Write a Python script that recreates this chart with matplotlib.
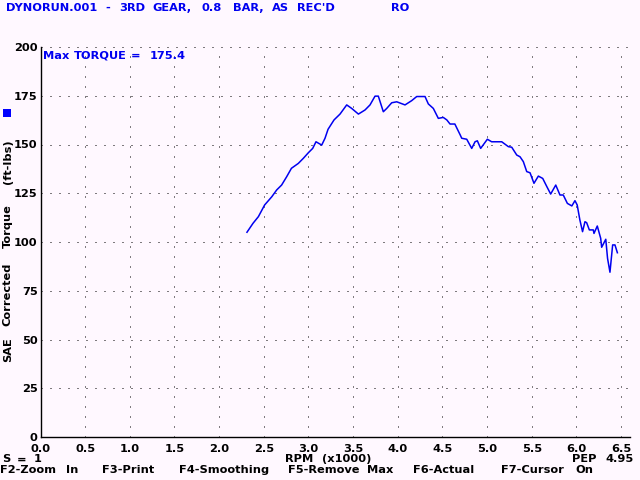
import matplotlib
matplotlib.use("Agg")
import matplotlib.pyplot as plt
from matplotlib.patches import Rectangle

# ---- data ----
rpm = [2.312, 2.38, 2.44, 2.51, 2.59, 2.645, 2.70, 2.757, 2.81, 2.887, 2.943, 3.0, 3.048,
       3.085, 3.149, 3.186, 3.22, 3.287, 3.354, 3.429, 3.485, 3.56, 3.634, 3.69, 3.746,
       3.783, 3.839, 3.877, 3.933, 3.989, 4.082, 4.157, 4.213, 4.306, 4.343, 4.399, 4.455,
       4.51, 4.55, 4.586, 4.64, 4.70, 4.717, 4.773, 4.829, 4.866, 4.892, 4.929, 5.004,
       5.052, 5.09, 5.165, 5.239, 5.277, 5.333, 5.37, 5.407, 5.445, 5.482, 5.526, 5.575,
       5.624, 5.67, 5.713, 5.77, 5.817, 5.854, 5.9, 5.95, 5.985, 6.01, 6.04, 6.07, 6.097,
       6.116, 6.146, 6.19, 6.198, 6.235, 6.273, 6.284, 6.33, 6.35, 6.377, 6.407, 6.433, 6.46]
torque = [105.0, 109.6, 113.0, 119.0, 123.2, 126.7, 129.2, 133.5, 137.8, 140.3, 142.9, 145.8,
          148.0, 151.4, 149.7, 153.2, 157.8, 162.6, 165.6, 170.3, 168.5, 165.6, 167.7, 170.3,
          174.8, 174.8, 166.8, 168.5, 171.4, 171.9, 170.3, 172.5, 174.6, 174.6, 170.8, 168.5,
          163.4, 163.9, 162.6, 160.5, 160.5, 154.9, 153.2, 152.7, 148.0, 151.4, 151.9, 148.0,
          152.7, 151.4, 151.4, 151.4, 148.9, 148.6, 144.6, 143.7, 141.2, 136.1, 135.5, 130.1,
          133.8, 132.6, 128.4, 124.6, 129.2, 124.1, 124.1, 119.8, 118.5, 121.2, 119.0, 111.3,
          105.3, 110.4, 109.9, 106.2, 106.2, 104.4, 108.2, 101.9, 97.3, 101.4, 91.6, 84.5,
          98.5, 98.5, 94.5]
xticks = [0.0, 0.5, 1.0, 1.5, 2.0, 2.5, 3.0, 3.5, 4.0, 4.5, 5.0, 5.5, 6.0, 6.5]
yticks = [0, 25, 50, 75, 100, 125, 150, 175, 200]

title = "DYNORUN.001 - 3RD GEAR, 0.8 BAR, AS REC'D"
operator = "RO"
max_label = "Max TORQUE = 175.4"
ylabel = "SAE Corrected Torque (ft-lbs)"
xlabel = "RPM (x1000)"
left_info = "S = 1"
right_info = "PEP 4.95"
keys = "F2-Zoom In  F3-Print  F4-Smoothing  F5-Remove Max  F6-Actual  F7-Cursor On"

BG = "#fff8ff"
BLUE = "#0000f0"
FONT = "DejaVu Sans"
FS = 8.2
CELL = 8.0  # character cell width of the original screen font, px
HALF_CAP = 0.729 * FS * 100 / 72 / 2  # px from caps centre to baseline

W, H = 640, 480
fig = plt.figure(figsize=(6.4, 4.8), dpi=100, facecolor=BG)

def fx(x):
    return x / W

def fy(y):
    return 1 - y / H

# axes: x=0 at px 40.5, 89.3 px per 1000 rpm; y=0 at px 437, y=200 at px 47
x0, x1 = 40.5, 630.0
y0, y1 = 437.0, 47.0
ax = fig.add_axes([fx(x0), fy(y0), (x1 - x0) / W, (y0 - y1) / H], facecolor=BG)
ax.set_xlim(0, (x1 - x0) / 89.3)
ax.set_ylim(0, 200)

for s in ["top", "right"]:
    ax.spines[s].set_visible(False)
for s in ["left", "bottom"]:
    ax.spines[s].set_color("black")
    ax.spines[s].set_linewidth(1.0)

ax.set_xticks(xticks)
ax.set_xticklabels([f"{v:.1f}" for v in xticks], fontfamily=FONT, fontweight="bold", fontsize=FS)
ax.set_yticks(yticks)
ax.set_yticklabels([str(v) for v in yticks], fontfamily=FONT, fontweight="bold", fontsize=FS)
ax.tick_params(axis="both", length=0, colors="black")
ax.tick_params(axis="y", pad=2)
ax.tick_params(axis="x", pad=4.9)

# dotted grid
for v in yticks[1:]:
    ax.axhline(v, color="black", lw=0.72, ls=(0, (1, 8)), zorder=1)
for v in xticks[1:]:
    ax.axvline(v, color="black", lw=0.72, ls=(0, (1, 9)), zorder=1)

ax.plot(rpm, torque, color=BLUE, lw=1.1, zorder=3)

txt = dict(fontfamily=FONT, fontweight="bold", fontsize=FS)


def grid_text(s, x, y, color, vertical=False, top=None):
    """Place a string word by word on the 8 px character grid of the screen font.
    (x, y): start of the string and caps centre line, in pixels from the top-left.
    If top is given, the words hang from that pixel row instead."""
    out = []
    i = 0
    for word in s.split(" "):
        if word:
            mid = (i + len(word) / 2.0) * CELL
            if vertical:
                t = fig.text(fx(x + HALF_CAP), fy(y - mid), word, color=color, ha="center",
                             va="baseline", rotation=90, rotation_mode="anchor", **txt)
            elif top is not None:
                t = fig.text(fx(x + mid), fy(top), word, color=color, ha="center",
                             va="top", **txt)
            else:
                t = fig.text(fx(x + mid), fy(y + HALF_CAP), word, color=color, ha="center",
                             va="baseline", **txt)
            out.append(t)
        i += len(word) + 1
    return out


grid_text(title, 8, 7, BLUE)
grid_text(operator, 392, 7, BLUE)
grid_text(max_label, 44, 54.5, BLUE)
grid_text(ylabel, 6.7, 362, "black", vertical=True)

# stack the two status rows below the x tick labels without overlap
fig.canvas.draw()
renderer = fig.canvas.get_renderer()
tick_bottom = min(t.get_window_extent(renderer).y0 for t in ax.get_xticklabels())
row1_top = H - tick_bottom + 0.6
row1 = []
row1 += grid_text(left_info, 2, 460, "black", top=row1_top)
row1 += grid_text(xlabel, 287, 460, "black", top=row1_top)
row1 += grid_text(right_info, 636 - CELL * len(right_info), 460, "black", top=row1_top)
fig.canvas.draw()
row1_bottom = min(t.get_window_extent(renderer).y0 for t in row1)
row2_top = H - row1_bottom + 0.6
grid_text(keys, 0, 472, "black", top=row2_top)

fig.patches.append(Rectangle((fx(3), fy(117)), 8 / W, 8 / H, transform=fig.transFigure,
                             facecolor="#0000ff", edgecolor="none"))

fig.savefig("out.png", dpi=100, facecolor=BG)
